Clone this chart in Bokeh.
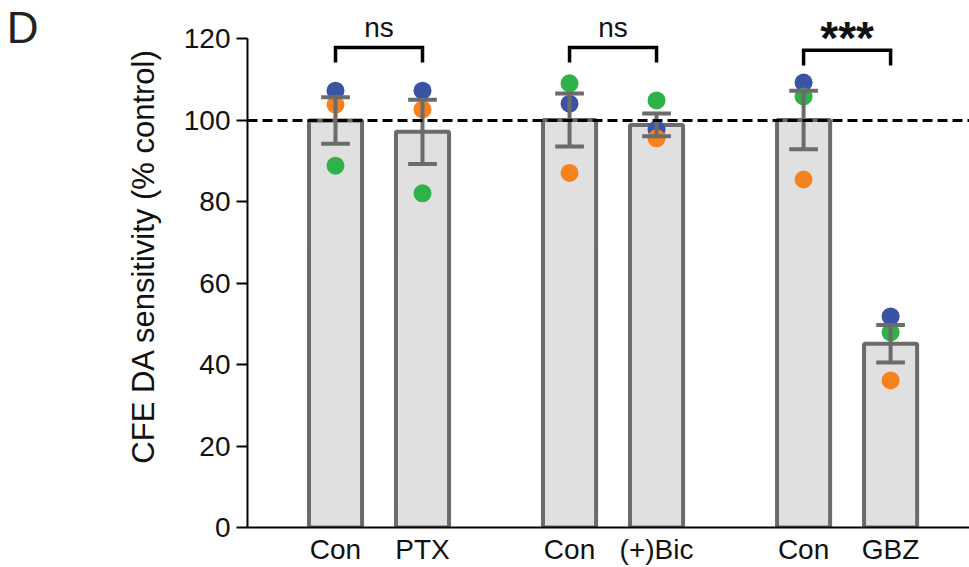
from bokeh.plotting import figure
from bokeh.models import Range1d, FixedTicker, Title, LinearAxis
from bokeh.core.properties import value
from bokeh.embed import file_html
from bokeh.resources import INLINE

# ---------------- data ----------------
categories = ["Con", "PTX", "Con", "(+)Bic", "Con", "GBZ"]
group_index = [0, 0, 1, 1, 2, 2]
member_index = [0, 1, 0, 1, 0, 1]
means = [99.9, 97.1, 100.0, 98.8, 100.0, 45.1]
sems = [5.7, 7.9, 6.5, 2.8, 7.2, 4.6]
pt_blue = [107.2, 107.2, 104.0, 97.7, 109.2, 51.8]
pt_orange = [103.8, 102.6, 87.0, 95.5, 85.4, 36.1]
pt_green = [88.8, 82.0, 109.0, 104.8, 105.8, 47.9]
reference_level = [100]
comparisons = ["ns", "ns", "***"]
bracket_y = [117.8, 117.8, 117.1]
y_ticks = [0, 20, 40, 60, 80, 100, 120]
y_label = "CFE DA sensitivity (% control)"
panel_letter = "D"

# ---------------- layout / style ----------------
GROUP_STEP = 2.69
BAR_W = 0.61
CAP_HALF = 0.165
LEG = 3.7
GRAY = "#6b6b6b"
FILL = "#e0e0e0"
BLUE = "#3a53a4"
ORANGE = "#f5821f"
GREEN = "#2eb24a"
FONT = "Liberation Sans"
TXT = "#111111"

xs = [g * GROUP_STEP + m for g, m in zip(group_index, member_index)]

p = figure(width=969, height=567, output_backend="svg", toolbar_location=None,
           x_range=Range1d(-1.0115, 7.287), y_range=Range1d(0, 129.33),
           min_border_left=247, min_border_right=0, min_border_top=0,
           min_border_bottom=40)
p.outline_line_color = None
p.grid.visible = False
p.background_fill_color = "white"

# bars
p.vbar(x=xs, top=means, bottom=0, width=BAR_W, fill_color=FILL,
       line_color=GRAY, line_width=4)

# points (blue under orange under green)
p.scatter(x=xs, y=pt_blue, size=18, fill_color=BLUE, line_color=None)
p.scatter(x=xs, y=pt_orange, size=18, fill_color=ORANGE, line_color=None)
p.scatter(x=xs, y=pt_green, size=18, fill_color=GREEN, line_color=None)

# error bars
lo = [m - s for m, s in zip(means, sems)]
hi = [m + s for m, s in zip(means, sems)]
p.segment(x0=xs, y0=lo, x1=xs, y1=hi, line_color=GRAY, line_width=4)
p.segment(x0=[x - CAP_HALF for x in xs], y0=hi, x1=[x + CAP_HALF for x in xs],
          y1=hi, line_color=GRAY, line_width=4)
p.segment(x0=[x - CAP_HALF for x in xs], y0=lo, x1=[x + CAP_HALF for x in xs],
          y1=lo, line_color=GRAY, line_width=4)

# reference line
p.hspan(y=reference_level, line_color="black", line_width=3, line_dash="10 5")

# brackets & significance text
bx, by, tx = [], [], []
for k in range(len(comparisons)):
    a = xs[2 * k]
    b = xs[2 * k + 1]
    yk = bracket_y[k]
    bx.append([a, a, b, b])
    by.append([yk - LEG, yk, yk, yk - LEG])
    tx.append((a + b) / 2)
p.multi_line(xs=bx, ys=by, line_color="black", line_width=3.5,
             line_join="miter")
ns_idx = [i for i, c in enumerate(comparisons) if c == "ns"]
st_idx = [i for i, c in enumerate(comparisons) if c != "ns"]
p.text(x=[tx[i] for i in ns_idx], y=[bracket_y[i] + 5.0 for i in ns_idx],
       text=[comparisons[i] for i in ns_idx], text_font=value(FONT),
       text_font_size="28px", text_align="center",
       text_baseline="alphabetic", text_color=TXT)
p.text(x=[tx[i] for i in st_idx], y=[bracket_y[i] + 3.1 for i in st_idx],
       text=[comparisons[i] for i in st_idx], text_font=value(FONT),
       text_font_size="46px", text_font_style="bold", text_align="center",
       text_baseline="alphabetic", text_color=TXT)

# axes
yax = p.yaxis[0]
yax.bounds = (0, 120)
yax.ticker = FixedTicker(ticks=y_ticks)
yax.minor_tick_line_color = None
yax.major_tick_out = 11
yax.major_tick_in = 0
yax.major_tick_line_width = 2
yax.major_tick_line_color = "black"
yax.axis_line_width = 2
yax.axis_line_color = "black"
yax.major_label_text_font = FONT
yax.major_label_text_font_size = "28px"
yax.major_label_text_color = TXT
yax.major_label_standoff = 6

xax = p.xaxis[0]
xax.ticker = FixedTicker(ticks=xs)
xax.major_label_overrides = {x: c for x, c in zip(xs, categories)}
xax.minor_tick_line_color = None
xax.major_tick_line_color = None
xax.major_tick_out = 0
xax.major_tick_in = 0
xax.axis_line_width = 2
xax.axis_line_color = "black"
xax.major_label_text_font = FONT
xax.major_label_text_font_size = "28px"
xax.major_label_text_color = TXT
xax.major_label_standoff = 6

# y label as a left-side title (top end aligned)
p.add_layout(Title(text=y_label, align="right", offset=48,
                   text_font=FONT, text_font_size="31px",
                   text_font_style="normal", text_color=TXT, standoff=39),
             "left")

# panel letter as a label-only axis on the far left
letter_axis = LinearAxis(ticker=FixedTicker(ticks=[122.6]),
                         major_label_overrides={122.6: panel_letter},
                         axis_line_color=None, major_tick_line_color=None,
                         minor_tick_line_color=None, major_tick_out=0,
                         major_tick_in=0, major_label_standoff=66,
                         major_label_text_font=FONT,
                         major_label_text_font_size="44px",
                         major_label_text_color="#222222")
p.add_layout(letter_axis, "left")

open("out.html", "w").write(file_html(p, INLINE))
